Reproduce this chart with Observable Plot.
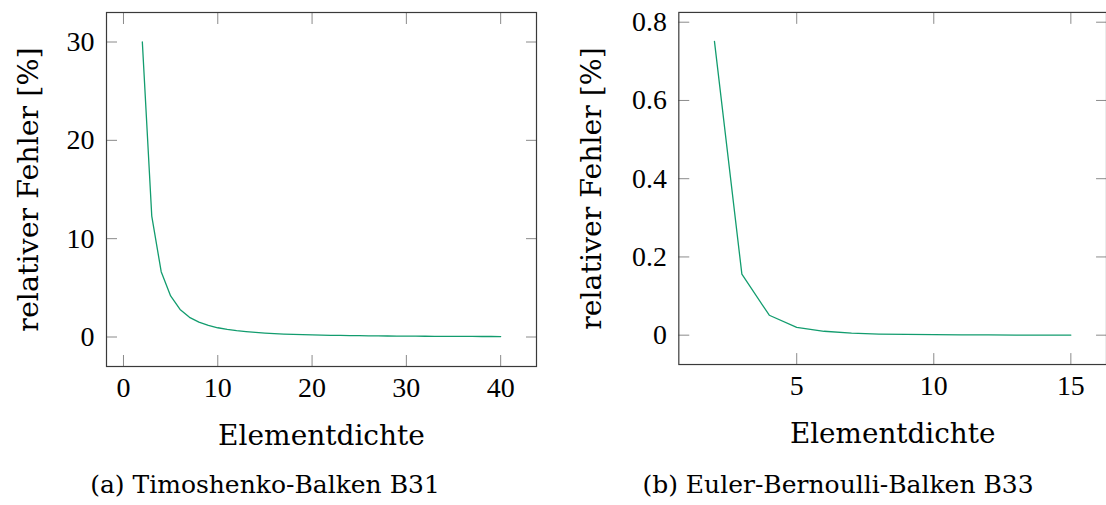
<!DOCTYPE html>
<html>
<head>
<meta charset="utf-8">
<script src="https://cdn.jsdelivr.net/npm/d3@7"></script>
<script src="https://cdn.jsdelivr.net/npm/@observablehq/plot@0.6"></script>
<style>
  html, body { margin: 0; padding: 0; background: #fff; overflow: hidden; }
  #wrap { position: relative; width: 1106px; height: 505px; overflow: hidden; }
  .panel { position: absolute; top: 0; }
  .cap { position: absolute; font-family: "DejaVu Serif", serif; font-size: 25px; color: #000; white-space: nowrap; transform: translate(-50%, -50%); }
  #wrap svg g[aria-label$="tick label"], #wrap svg g[aria-label$="tick label"] text { font-family: "Liberation Serif", serif !important; font-size: 28px !important; }
</style>
</head>
<body>
<div id="wrap">
  <div class="panel" id="pa" style="left:0px"></div>
  <div class="panel" id="pb" style="left:553px"></div>
  <div class="cap" style="left:265px; top:484px">(a) Timoshenko-Balken B31</div>
  <div class="cap" style="left:838px; top:484px">(b) Euler-Bernoulli-Balken B33</div>
</div>
<script>
// Panel (a): Timoshenko-Balken B31
const densityA = [2,3,4,5,6,7,8,9,10,11,12,13,14,15,16,17,18,19,20,21,22,23,24,25,26,27,28,29,30,31,32,33,34,35,36,37,38,39,40];
const errorA = [30,12.3,6.64,4.17,2.8,2.0,1.52,1.18,0.94,0.77,0.64,0.54,0.46,0.39,0.34,0.30,0.27,0.24,0.21,0.19,0.17,0.157,0.143,0.131,0.121,0.111,0.103,0.095,0.089,0.083,0.077,0.072,0.068,0.064,0.060,0.057,0.053,0.050,0.048];
const xTicksA = [0,10,20,30,40];
const yTicksA = [0,10,20,30];

// Panel (b): Euler-Bernoulli-Balken B33
const densityB = [2,3,4,5,6,7,8,9,10,11,12,13,14,15];
const errorB = [0.751,0.156,0.051,0.020,0.0100,0.0052,0.0029,0.0018,0.0012,0.0008,0.0006,0.0004,0.0003,0.0002];
const xTicksB = [5,10,15];
const yTicksB = [0,0.2,0.4,0.6,0.8];

const xLabel = "Elementdichte";
const yLabel = "relativer Fehler [%]";

const lineColor = "#129c6e";
const tickColor = "#8a8a8a";
const frameColor = "#3a3a3a";
const labelFont = "DejaVu Serif";

function panel({xs, ys, xDomain, yDomain, xTicks, yTicks, yFmt, width, marginLeft, marginRight, yLabelDx}) {
  const data = xs.map((x, i) => ({x, y: ys[i]}));
  const tl = 11;
  return Plot.plot({
    width, height: 460,
    marginLeft, marginRight, marginTop: 12, marginBottom: 94,
    style: {background: "#fff", overflow: "visible"},
    x: {domain: xDomain, ticks: xTicks, label: null},
    y: {domain: yDomain, ticks: yTicks, label: null},
    marks: [
      // inward ticks on all four sides
      Plot.axisX(xTicks, {anchor: "bottom", tickSize: tl, dy: -tl, tickFormat: () => "", stroke: tickColor, label: null}),
      Plot.axisX(xTicks, {anchor: "top", tickSize: tl, dy: tl, tickFormat: () => "", stroke: tickColor, label: null}),
      Plot.axisY(yTicks, {anchor: "left", tickSize: tl, dx: tl, tickFormat: () => "", stroke: tickColor, label: null}),
      Plot.axisY(yTicks, {anchor: "right", tickSize: tl, dx: -tl, tickFormat: () => "", stroke: tickColor, label: null}),
      // tick labels
      Plot.axisX(xTicks, {anchor: "bottom", tickSize: 0, tickPadding: 11, label: null, fill: "#000"}),
      Plot.axisY(yTicks, {anchor: "left", tickSize: 0, tickPadding: 12, tickFormat: yFmt, label: null, fill: "#000"}),
      // axis titles
      Plot.text([xLabel], {text: d => d, frameAnchor: "bottom", lineAnchor: "middle", dy: 70, fill: "#000", fontFamily: labelFont, fontSize: 28}),
      Plot.text([yLabel], {text: d => d, frameAnchor: "left", rotate: -90, lineAnchor: "middle", textAnchor: "middle", dx: yLabelDx, fill: "#000", fontFamily: labelFont, fontSize: 28.5}),
      Plot.line(data, {x: "x", y: "y", stroke: lineColor, strokeWidth: 1.3}),
      Plot.frame({stroke: frameColor, strokeWidth: 1.2})
    ]
  });
}

document.getElementById("pa").appendChild(panel({
  xs: densityA, ys: errorA, xDomain: [-1.8, 43.8], yDomain: [-3, 33],
  xTicks: xTicksA, yTicks: yTicksA, yFmt: d => String(d),
  width: 553, marginLeft: 106, marginRight: 17, yLabelDx: -78
}));
document.getElementById("pb").appendChild(panel({
  xs: densityB, ys: errorB, xDomain: [0.7, 16.3], yDomain: [-0.075, 0.825],
  xTicks: xTicksB, yTicks: yTicksB, yFmt: d => d === 0 ? "0" : String(d),
  width: 556, marginLeft: 126, marginRight: 0, yLabelDx: -87
}));
</script>
</body>
</html>
